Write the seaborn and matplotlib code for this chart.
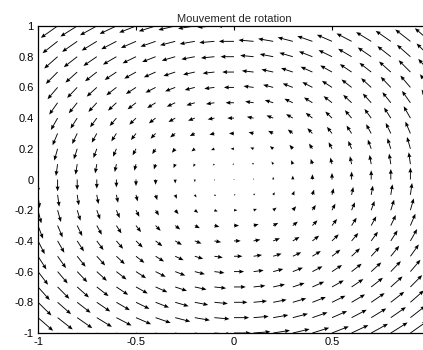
import numpy as np
import matplotlib
matplotlib.use("Agg")
import matplotlib.pyplot as plt
import seaborn as sns

# Grid of sample points (meshgrid -1:0.1:1)
x_vals = [-1.0, -0.9, -0.8, -0.7, -0.6, -0.5, -0.4, -0.3, -0.2, -0.1, 0.0,
          0.1, 0.2, 0.3, 0.4, 0.5, 0.6, 0.7, 0.8, 0.9, 1.0]
y_vals = [-1.0, -0.9, -0.8, -0.7, -0.6, -0.5, -0.4, -0.3, -0.2, -0.1, 0.0,
          0.1, 0.2, 0.3, 0.4, 0.5, 0.6, 0.7, 0.8, 0.9, 1.0]
title = "Mouvement de rotation"
xticks = [-1, -0.5, 0, 0.5]
xticklabels = ["-1", "-0.5", "0", "0.5"]
yticks = [-1, -0.8, -0.6, -0.4, -0.2, 0, 0.2, 0.4, 0.6, 0.8, 1]
yticklabels = ["-1", "-0.8", "-0.6", "-0.4", "-0.2", "0", "0.2", "0.4", "0.6", "0.8", "1"]
arrow_scale = 0.0857  # MATLAB-like autoscale factor

sns.set_style("white")
plt.rcParams['font.family'] = ['Liberation Sans', 'DejaVu Sans']

X, Y = np.meshgrid(x_vals, y_vals)
U = -Y   # rotation field: u = -y
V = X    #                 v =  x

fig = plt.figure(figsize=(4.23, 3.5), dpi=100)
ax = fig.add_axes([38/423, 17/350, 392/423, 307/350])
ax.quiver(X, Y, U, V, angles='xy', scale_units='xy', scale=1/arrow_scale,
          pivot='tail', color='black', units='dots', width=0.9,
          headwidth=4.5, headlength=5.5, headaxislength=5)
ax.set_xlim(-1, 1)
ax.set_ylim(-1, 1)
ax.set_xticks(xticks)
ax.set_xticklabels(xticklabels)
ax.set_yticks(yticks)
ax.set_yticklabels(yticklabels)
ax.tick_params(direction='in', length=3, width=0.8, labelsize=8,
               top=True, right=True, colors='black', pad=3)
for s in ax.spines.values():
    s.set_visible(True)
    s.set_color('black')
    s.set_linewidth(0.9)
ax.set_title(title, fontsize=8, pad=3)
fig.savefig("out.png", dpi=100)
